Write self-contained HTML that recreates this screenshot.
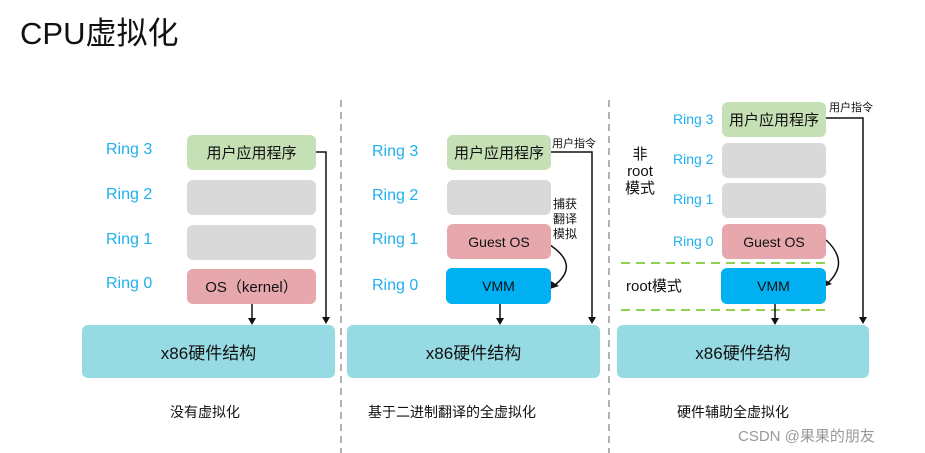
<!DOCTYPE html>
<html><head><meta charset="utf-8"><style>
body{margin:0;width:925px;height:453px;background:#fff;position:relative;overflow:hidden;font-family:"Liberation Sans","Noto Sans CJK SC",sans-serif;}
.a{position:absolute;}
.b{position:absolute;border-radius:6px;display:flex;align-items:center;justify-content:center;font-size:15px;color:#111;}
.g{background:#c5e0b4}.e{background:#d9d9d9}.r{background:#e6a8ad}.v{background:#00b0f0}.h{background:#96dae3;font-size:17px}
.l{position:absolute;color:#20b0ee;font-size:16px;}
.t{position:absolute;font-size:14px;color:#111;}
</style></head><body>
<div class="a" style="left:20px;top:8px;font-size:31px;color:#111">CPU虚拟化</div>
<svg class="a" style="left:0;top:0" width="925" height="453">
<g stroke="#999" stroke-width="1.5" stroke-dasharray="7,5"><line x1="341" y1="100" x2="341" y2="453"/><line x1="609" y1="100" x2="609" y2="453"/></g>
<g stroke="#92d050" stroke-width="2" stroke-dasharray="9,6"><line x1="621" y1="263" x2="826" y2="263"/><line x1="621" y1="310" x2="826" y2="310"/></g>
<g stroke="#111" stroke-width="1.5" fill="none">
<path d="M252 304 V320"/><path d="M316 152 H326 V319"/>
<path d="M500 304 V320"/><path d="M551 152 H592 V319"/>
<path d="M550 245 Q580 265 555 285"/>
<path d="M775 304 V320"/><path d="M826 118 H863 V319"/>
<path d="M826 240 Q850 262 828 283"/>
</g>
<g fill="#111">
<path d="M248 318 L256 318 L252 325z"/><path d="M322 317 L330 317 L326 324z"/>
<path d="M496 318 L504 318 L500 325z"/><path d="M588 317 L596 317 L592 324z"/>
<path d="M771 318 L779 318 L775 325z"/><path d="M859 317 L867 317 L863 324z"/>
<path d="M551 281 L559 286 L550 289z"/><path d="M824 279 L832 284 L823 287z"/>
</g>
</svg>
<!-- panel 1 -->
<div class="l" style="left:106px;top:141px">Ring 3</div>
<div class="l" style="left:106px;top:186px">Ring 2</div>
<div class="l" style="left:106px;top:231px">Ring 1</div>
<div class="l" style="left:106px;top:275px">Ring 0</div>
<div class="b g" style="left:187px;top:135px;width:129px;height:35px">用户应用程序</div>
<div class="b e" style="left:187px;top:180px;width:129px;height:35px"></div>
<div class="b e" style="left:187px;top:225px;width:129px;height:35px"></div>
<div class="b r" style="left:187px;top:269px;width:129px;height:35px">OS（kernel）</div>
<div class="b h" style="left:82px;top:325px;width:253px;height:53px">x86硬件结构</div>
<div class="t" style="left:170px;top:402px">没有虚拟化</div>
<!-- panel 2 -->
<div class="l" style="left:372px;top:143px">Ring 3</div>
<div class="l" style="left:372px;top:187px">Ring 2</div>
<div class="l" style="left:372px;top:231px">Ring 1</div>
<div class="l" style="left:372px;top:277px">Ring 0</div>
<div class="b g" style="left:447px;top:135px;width:104px;height:35px">用户应用程序</div>
<div class="b e" style="left:447px;top:180px;width:104px;height:35px"></div>
<div class="b r" style="left:447px;top:224px;width:104px;height:35px;font-size:14px">Guest OS</div>
<div class="b v" style="left:446px;top:268px;width:105px;height:36px;font-size:14px">VMM</div>
<div class="b h" style="left:347px;top:325px;width:253px;height:53px">x86硬件结构</div>
<div class="t" style="left:552px;top:135px;font-size:11px">用户指令</div>
<div class="t" style="left:553px;top:197px;font-size:12px;line-height:15px">捕获<br>翻译<br>模拟</div>
<div class="t" style="left:368px;top:402px">基于二进制翻译的全虚拟化</div>
<!-- panel 3 -->
<div class="l" style="left:673px;top:111px;font-size:14px">Ring 3</div>
<div class="l" style="left:673px;top:151px;font-size:14px">Ring 2</div>
<div class="l" style="left:673px;top:191px;font-size:14px">Ring 1</div>
<div class="l" style="left:673px;top:233px;font-size:14px">Ring 0</div>
<div class="b g" style="left:722px;top:102px;width:104px;height:35px">用户应用程序</div>
<div class="b e" style="left:722px;top:143px;width:104px;height:35px"></div>
<div class="b e" style="left:722px;top:183px;width:104px;height:35px"></div>
<div class="b r" style="left:722px;top:224px;width:104px;height:35px;font-size:14px">Guest OS</div>
<div class="b v" style="left:721px;top:268px;width:105px;height:36px;font-size:14px">VMM</div>
<div class="b h" style="left:617px;top:325px;width:252px;height:53px">x86硬件结构</div>
<div class="t" style="left:621px;top:146px;width:38px;text-align:center;line-height:17px;font-size:15px">非<br>root<br>模式</div>
<div class="t" style="left:626px;top:275px;font-size:15px">root模式</div>
<div class="t" style="left:829px;top:99px;font-size:11px">用户指令</div>
<div class="t" style="left:677px;top:402px">硬件辅助全虚拟化</div>
<div class="t" style="left:738px;top:425px;color:#999;font-size:15px">CSDN @果果的朋友</div>
</body></html>
